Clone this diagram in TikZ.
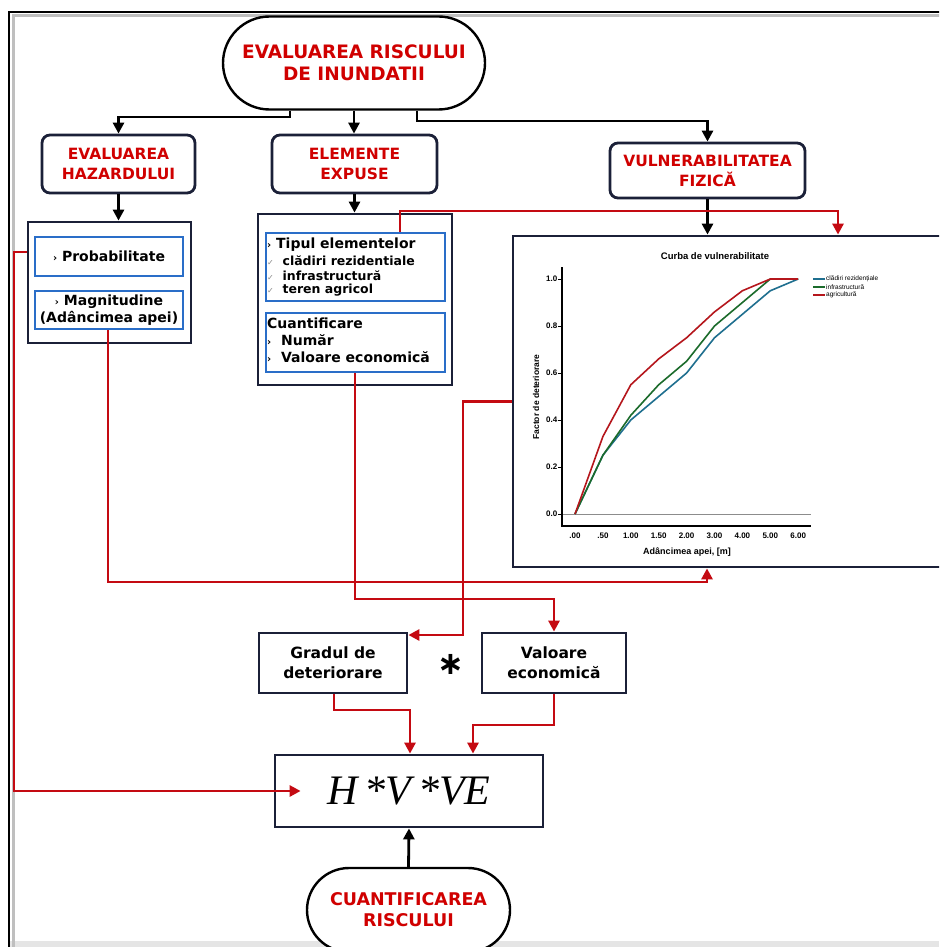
\documentclass[tikz,border=0pt]{standalone}
\usepackage{fontspec}
\setmainfont{DejaVu Sans}
\newfontfamily\arialf{Liberation Sans}
\newfontfamily\timesf{Liberation Serif}
\usetikzlibrary{arrows.meta,shapes.misc}
\definecolor{tred}{HTML}{D00000}
\definecolor{lred}{HTML}{C40A12}
\definecolor{navy}{HTML}{1B2038}
\definecolor{bbl}{HTML}{2A6EC8}
\definecolor{cblue}{HTML}{1F6F8F}
\definecolor{cgreen}{HTML}{1B6B2B}
\definecolor{cred}{HTML}{B5161C}
\begin{document}
\begin{tikzpicture}[x=1pt,y=-1pt,
  stadium/.style={rounded rectangle,draw=black,line width=2.4pt,fill=white,align=center,
    font=\bfseries\fontsize{18.5}{22}\selectfont,text=tred,inner sep=0pt},
  rbox/.style={rectangle,draw=navy,line width=2.8pt,rounded corners=8pt,fill=white,align=center,
    font=\bfseries\fontsize{15.5}{20}\selectfont,text=tred,inner sep=0pt},
  cbox/.style={rectangle,draw=navy,line width=2.8pt,fill=white,inner sep=0pt},
  bbox/.style={rectangle,draw=bbl,line width=2.6pt,fill=white,inner sep=0pt,
    font=\bfseries\fontsize{14}{17}\selectfont},
  pbox/.style={rectangle,draw=navy,line width=2.8pt,fill=white,inner sep=0pt,align=center,
    font=\bfseries\fontsize{15.5}{20}\selectfont},
  ltxt/.style={anchor=west,inner sep=0pt,font=\bfseries\fontsize{14}{17}\selectfont},
  stxt/.style={anchor=west,inner sep=0pt,font=\bfseries\fontsize{12.5}{15}\selectfont},
  blk/.style={draw=black,line width=2.8pt,-{Triangle[length=11pt,width=11pt]}},
  redc/.style={draw=lred,color=lred,line width=2.8pt,-{Triangle[length=11pt,width=11pt]}},
  tick/.style={font=\arialf\bfseries\fontsize{8}{9}\selectfont,inner sep=0pt},
  leg/.style={font=\arialf\fontsize{6.5}{7}\selectfont,anchor=west,inner sep=0pt}
]
\newcommand{\bul}{{\fontsize{10}{10}\selectfont ›}}
\newcommand{\chkm}{{\color{black!45}\fontsize{8}{8}\selectfont ✓}}
\useasboundingbox (0,0) rectangle (939,947);
\clip (0,0) rectangle (939,947);
\fill[white] (0,0) rectangle (939,947);
% outer frame
\fill[black!10] (9,941) rectangle (939,947);
\draw[black!25,line width=3pt] (13,960) -- (13,16) -- (950,16);
\draw[black,line width=2.6pt] (9,960) -- (9,12) -- (950,12);

% nodes
\node[stadium,minimum width=262pt,minimum height=93pt] (top) at (354,63) {EVALUAREA RISCULUI\\DE INUNDATII};
\node[rbox,minimum width=153pt,minimum height=58pt] (haz) at (118.5,164) {EVALUAREA\\HAZARDULUI};
\node[rbox,minimum width=165pt,minimum height=58pt] (exp) at (354.5,164) {ELEMENTE\\EXPUSE};
\node[rbox,minimum width=195pt,minimum height=55pt] (vul) at (707.5,170.5) {VULNERABILITATEA\\FIZICĂ};

\node[cbox,minimum width=163pt,minimum height=121pt] (hazc) at (109.5,282.5) {};
\node[bbox,minimum width=148pt,minimum height=39pt,align=center] (prob) at (109,256.5) {\bul\ Probabilitate};
\node[bbox,minimum width=148pt,minimum height=38pt,align=center] (magn) at (109,310) {\bul\ Magnitudine\\(Adâncimea apei)};

\node[cbox,minimum width=194pt,minimum height=171pt] (expc) at (355,299.5) {};
\node[bbox,minimum width=179pt,minimum height=68pt] (tip) at (355.5,267) {};
\node[bbox,minimum width=179pt,minimum height=59pt] (cuant) at (355.5,342.5) {};
\node[ltxt] (t1) at (267,245) {\bul\ Tipul elementelor};
\node[stxt] (t2) at (267,261) {\chkm\ \ clădiri rezidentiale};
\node[stxt] (t3) at (267,275.5) {\chkm\ \ infrastructură};
\node[stxt] (t4) at (267,290) {\chkm\ \ teren agricol};
\node[ltxt] (q1) at (267,323) {Cuantificare};
\node[ltxt] (q2) at (267,340) {\bul\ \ Număr};
\node[ltxt] (q3) at (267,357) {\bul\ \ Valoare economică};

\node[cbox,minimum width=437pt,minimum height=331pt] (chart) at (731.5,401.5) {};

\node[pbox,minimum width=148pt,minimum height=60pt] (grad) at (333,663) {Gradul de\\deteriorare};
\node[pbox,minimum width=144pt,minimum height=60pt] (val) at (554,663) {Valoare\\economică};
\node[font=\bfseries\fontsize{32}{32}\selectfont,inner sep=0pt] (star) at (451,664) {∗};
\node[pbox,minimum width=268pt,minimum height=72pt,font=\timesf\itshape\fontsize{42}{42}\selectfont] (hve) at (409,791) {H\,*V\,*VE};
\node[stadium,minimum width=203pt,minimum height=84pt,font=\bfseries\fontsize{17.5}{21}\selectfont] (rq) at (408.5,910) {CUANTIFICAREA\\RISCULUI};

% chart content
\node[font=\arialf\bfseries\fontsize{9.5}{10}\selectfont,inner sep=0pt] (ctitle) at (715,256) {Curba de vulnerabilitate};
\draw[black!45,line width=0.9pt] (562,514) -- (811,514);
\draw[black,line width=1.1pt] (562,267) -- (562,526) -- (811,526);
\foreach \v/\y in {1.0/279,0.8/326,0.6/373,0.4/420,0.2/467,0.0/514}{
  \draw[black,line width=0.8pt] (558,\y) -- (562,\y);
  \node[tick,anchor=east] (yl\y) at (557.5,\y) {\v};
}
\foreach \l/\x in {.00/575,.50/602.9,1.00/630.8,1.50/658.7,2.00/686.6,3.00/714.5,4.00/742.4,5.00/770.3,6.00/798.2}{
  \node[tick] (xl\x) at (\x,536) {\l};
}
\node[font=\arialf\bfseries\fontsize{9}{10}\selectfont,inner sep=0pt] (xtitle) at (687,552) {Adâncimea apei, [m]};
\node[font=\arialf\bfseries\fontsize{8.5}{9}\selectfont,inner sep=0pt,rotate=90] (ytitle) at (536,397) {Factor de deteriorare};
\draw[cblue,line width=1.6pt,line join=round] (575,514) -- (602.9,455.25) -- (630.8,420) -- (658.7,396.5) -- (686.6,373) -- (714.5,337.75) -- (742.4,314.25) -- (770.3,290.75) -- (798.2,279);
\draw[cgreen,line width=1.6pt,line join=round] (575,514) -- (602.9,455.25) -- (630.8,415.3) -- (658.7,384.75) -- (686.6,361.25) -- (714.5,326) -- (742.4,302.5) -- (770.3,279) -- (798.2,279);
\draw[cred,line width=1.6pt,line join=round] (575,514) -- (602.9,436.5) -- (630.8,384.75) -- (658.7,358.9) -- (686.6,337.75) -- (714.5,311.9) -- (742.4,290.75) -- (770.3,279) -- (798.2,279);
\draw[cblue,line width=1.6pt] (813,279) -- (825,279);
\draw[cgreen,line width=1.6pt] (813,287) -- (825,287);
\draw[cred,line width=1.6pt] (813,295) -- (825,295);
\node[leg] (lg1) at (826,279) {clădiri rezidențiale};
\node[leg] (lg2) at (826,287) {infrastructură};
\node[leg] (lg3) at (826,295) {agricultură};

% black connectors
\coordinate (b1) at (290,117);
\coordinate (b2) at (417,121);
\draw[blk] (top.south -| b1) -- (b1) -| (haz.north);
\draw[blk] (top.south) -- (top.south |- exp.north);
\draw[blk] (top.south -| b2) -- (b2) -| (vul.north);
\draw[blk] (haz.south) -- (haz.south |- hazc.north);
\draw[blk] (exp.south) -- (exp.south |- expc.north);
\draw[blk] (vul.south) -- (vul.south |- chart.north);
\draw[blk] (rq.north) -- (hve.south);

% red connectors
\coordinate (lft) at (14,252);
\draw[redc] (hazc.west |- lft) -- (lft) -- (lft |- hve.west) -- ([xshift=27pt]hve.west);
\coordinate (c1) at (707,582);
\draw[redc] (magn.south -| 108,0) -- (108,582) -- (c1) -- (c1 |- chart.south);
\coordinate (c2) at (355,599);
\draw[redc] (cuant.south -| c2) -- (c2) -| (val.north);
\coordinate (c3) at (400,211);
\coordinate (c4) at (838,211);
\draw[redc] (tip.north -| c3) -- (c3) -- (c4) -- (c4 |- chart.north);
\coordinate (c5) at (463,635);
\draw[redc] (chart.west) -| (c5) -- (grad.east |- c5);
\coordinate (c6) at (410,710);
\draw[redc] (grad.south -| 334,0) -- (334,710) -- (c6) -- (c6 |- hve.north);
\coordinate (c7) at (473,725);
\draw[redc] (val.south) |- (c7) -- (c7 |- hve.north);
\end{tikzpicture}
\end{document}
